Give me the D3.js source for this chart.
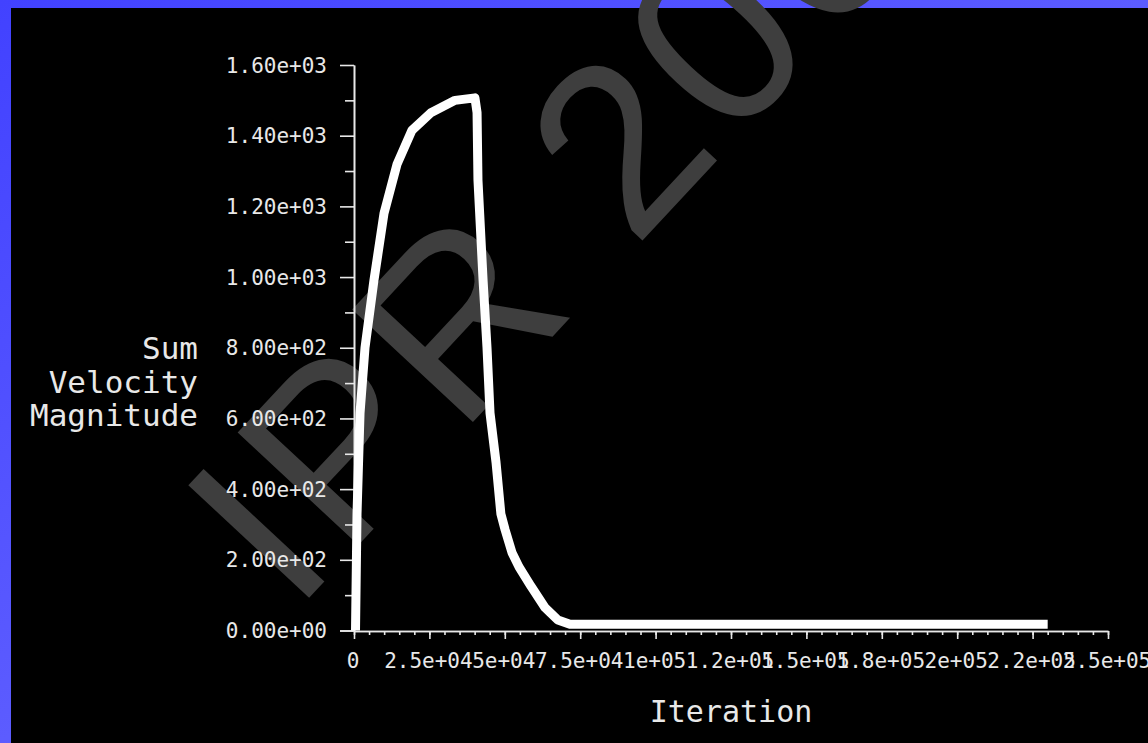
<!DOCTYPE html>
<html>
<head>
<meta charset="utf-8">
<script src="https://cdn.jsdelivr.net/npm/d3@7"></script>
<style>
  body { margin: 0; background: #000; }
  svg { display: block; }
  text { font-family: "DejaVu Sans Mono", monospace; fill: #e8e8e8; }
</style>
</head>
<body>
<svg id="chart"></svg>
<script>
// residual history
let iterations = [500, 1000, 2000, 3650, 6600, 9950, 14300, 19200, 25500, 33500, 40100,
                  40800, 41100, 42800, 44100, 45100, 47100, 48700, 50100, 52400, 54700,
                  58700, 63300, 67600, 71600, 230000];
let sumVelocity = [0, 330, 615, 800, 990, 1180, 1320, 1415, 1465, 1500, 1507,
                   1465, 1275, 990, 800, 615, 475, 330, 285, 220, 180,
                   125, 65, 30, 18, 18];

let yTicks = [0, 200, 400, 600, 800, 1000, 1200, 1400, 1600];
let yTickLabels = ['0.00e+00', '2.00e+02', '4.00e+02', '6.00e+02', '8.00e+02',
                   '1.00e+03', '1.20e+03', '1.40e+03', '1.60e+03'];
let yMinor = [100, 300, 500, 700, 900, 1100, 1300, 1500];

let xTicks = [0, 25000, 50000, 75000, 100000, 125000, 150000, 175000, 200000, 225000, 250000];
let xTickLabels = ['0', '2.5e+04', '5e+04', '7.5e+04', '1e+05', '1.2e+05',
                   '1.5e+05', '1.8e+05', '2e+05', '2.2e+05', '2.5e+05'];
let xMinor = d3.range(0, 250001, 5000);

let yTitle = ['Sum', 'Velocity', 'Magnitude'];
let xTitle = 'Iteration';
let watermark = 'IPR 2005';

let width = 1148;
let height = 743;

let svg = d3.select('#chart').attr('width', width).attr('height', height);

// blue frame + black plot window
let grad = svg.append('defs').append('linearGradient')
    .attr('id', 'frame').attr('x1', 0).attr('y1', 0).attr('x2', 1).attr('y2', 1);
grad.append('stop').attr('offset', 0).attr('stop-color', '#4242ff');
grad.append('stop').attr('offset', 1).attr('stop-color', '#7676ff');
svg.append('rect').attr('width', width).attr('height', height).attr('fill', 'url(#frame)');
svg.append('rect').attr('x', 11).attr('y', 8).attr('width', width - 11).attr('height', height - 8).attr('fill', '#000');

// watermark sits under everything else
svg.append('text')
   .text(watermark)
   .attr('transform', 'translate(294,614) rotate(-47)')
   .style('font-family', '"Liberation Sans", Arial, sans-serif')
   .style('font-size', '240px')
   .style('letter-spacing', '8px')
   .style('fill', '#3e3e3e');

let xScale = d3.scaleLinear().domain([0, 250000]).range([354, 1108]);
let yScale = d3.scaleLinear().domain([0, 1600]).range([630.5, 65]);

let axisStyle = (g) => {
    g.selectAll('path, line').attr('stroke', '#e8e8e8').attr('stroke-width', 1.6);
    g.selectAll('text').remove();
}

// y axis
svg.append('g')
   .attr('transform', 'translate(354,0)')
   .call(d3.axisLeft(yScale).tickValues(yTicks).tickSize(14).tickSizeOuter(0))
   .call(axisStyle);
svg.append('g')
   .attr('transform', 'translate(354,0)')
   .call(d3.axisLeft(yScale).tickValues(yMinor).tickSize(9).tickSizeOuter(0))
   .call(axisStyle);

svg.append('g').selectAll('text')
   .data(yTicks)
   .join('text')
   .attr('x', 327)
   .attr('y', d => yScale(d))
   .attr('dy', '0.36em')
   .attr('text-anchor', 'end')
   .style('font-size', '21px')
   .text((d, i) => yTickLabels[i]);

// x axis
svg.append('g')
   .attr('transform', 'translate(0,631)')
   .call(d3.axisBottom(xScale).tickValues(xMinor).tickSize(4).tickSizeOuter(0))
   .call(axisStyle);
svg.append('g')
   .attr('transform', 'translate(0,631)')
   .call(d3.axisBottom(xScale).tickValues(xTicks).tickSize(8).tickSizeOuter(0))
   .call(axisStyle);
// the 0.00e+00 tick runs into the x axis line
svg.append('line')
   .attr('x1', 340).attr('x2', 354).attr('y1', 631).attr('y2', 631)
   .attr('stroke', '#e8e8e8').attr('stroke-width', 1.6);

svg.append('g').selectAll('text')
   .data(xTicks)
   .join('text')
   .attr('x', d => xScale(d) - 1)
   .attr('y', 668)
   .attr('text-anchor', 'middle')
   .style('font-size', '21px')
   .text((d, i) => xTickLabels[i]);

// titles
svg.append('g').selectAll('text')
   .data(yTitle)
   .join('text')
   .attr('x', 198)
   .attr('y', (d, i) => 359 + i * 33.5)
   .attr('text-anchor', 'end')
   .style('font-size', '31px')
   .text(d => d);

svg.append('text')
   .attr('x', 731)
   .attr('y', 722)
   .attr('text-anchor', 'middle')
   .style('font-size', '30px')
   .text(xTitle);

// the curve
let line = d3.line()
    .x((d, i) => xScale(iterations[i]))
    .y(d => yScale(d));

svg.append('path')
   .datum(sumVelocity)
   .attr('d', line)
   .attr('fill', 'none')
   .attr('stroke', '#ffffff')
   .attr('stroke-width', 9)
   .attr('stroke-linejoin', 'round');
</script>
</body>
</html>
